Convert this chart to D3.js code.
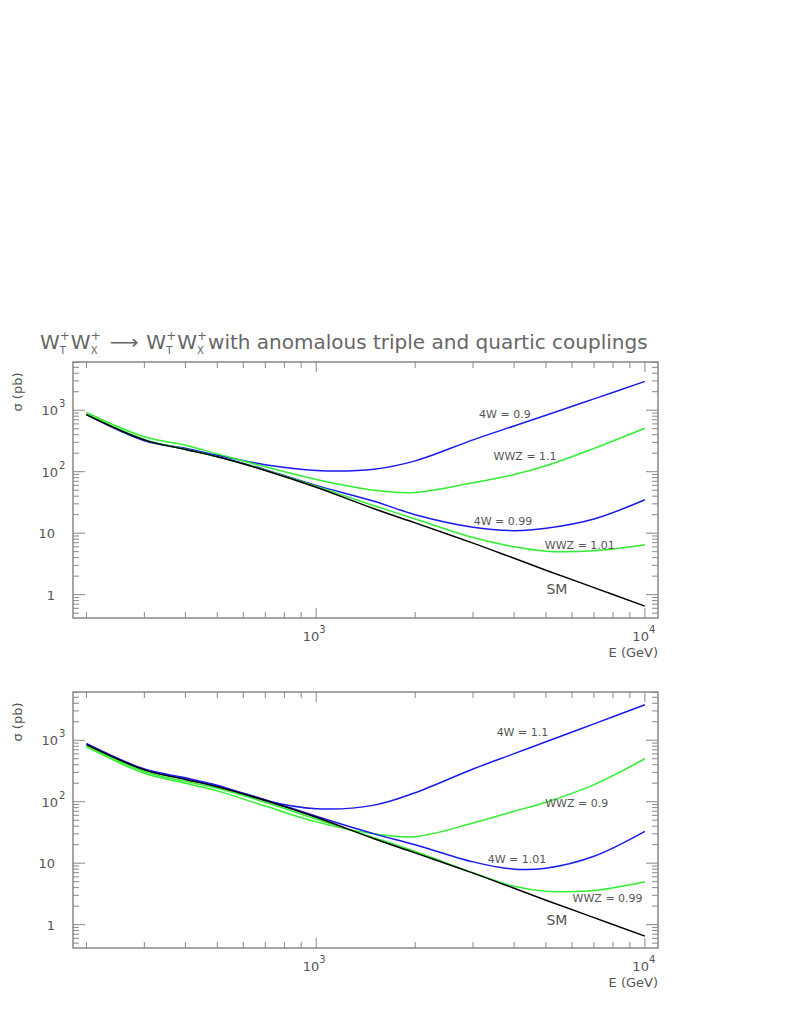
<!DOCTYPE html>
<html><head><meta charset="utf-8">
<script src="https://cdn.jsdelivr.net/npm/d3@7"></script>
<style>body{margin:0;background:#fff}svg{font-family:"DejaVu Sans",sans-serif}</style>
</head><body><div id="chart"></div>
<script>
// energies (GeV)
const energy = [200, 300, 400, 500, 700, 1000, 1500, 2000, 3000, 4000, 5000, 7000, 10000];

const sm = [850, 330, 230, 175, 105, 56, 25, 14.7, 6.9, 3.9, 2.5, 1.3, 0.65];

// upper panel
const top4W09 = [850, 320, 240, 185, 130, 105, 110, 150, 330, 556, 830, 1530, 2950];
const topWWZ11 = [920, 370, 270, 195, 120, 75, 50, 46, 66, 90, 125, 240, 510];
const top4W099 = [850, 330, 232, 177, 108, 60, 33, 20, 12.5, 11, 12, 17, 35];
const topWWZ101 = [860, 335, 233, 176, 106, 58, 28, 17, 8.5, 6, 5.1, 5.2, 6.5];

// lower panel
const bot4W11 = [880, 340, 245, 185, 105, 77, 88, 140, 340, 605, 945, 1850, 3780];
const botWWZ09 = [780, 290, 200, 150, 85, 47, 30, 27, 45, 70, 98, 190, 500];
const bot4W101 = [880, 335, 235, 178, 108, 58, 30, 20, 10.5, 8, 8.3, 13, 33];
const botWWZ099 = [830, 310, 215, 165, 98, 52, 26, 15.5, 7, 4.2, 3.5, 3.6, 5];

const panels = [
  { series: [
      { v: top4W09, c: "#1a1aee" }, { v: topWWZ11, c: "#30ee30" },
      { v: top4W099, c: "#1a1aee" }, { v: topWWZ101, c: "#30ee30" }, { v: sm, c: "#000" }],
    labels: [["4W = 0.9", 3750, 860, 11], ["WWZ = 1.1", 4320, 180, 11], ["4W = 0.99", 3700, 16, 11],
             ["WWZ = 1.01", 6340, 6.4, 11], ["SM", 5400, 1.2, 14]] },
  { series: [
      { v: bot4W11, c: "#1a1aee" }, { v: botWWZ09, c: "#30ee30" },
      { v: bot4W101, c: "#1a1aee" }, { v: botWWZ099, c: "#30ee30" }, { v: sm, c: "#000" }],
    labels: [["4W = 1.1", 4240, 1370, 11], ["WWZ = 0.9", 6200, 94, 11], ["4W = 1.01", 4080, 11.5, 11],
             ["WWZ = 0.99", 7700, 2.7, 11], ["SM", 5400, 1.16, 14]] }
];

const W = 789, H = 1021, gray = "#555", frame = "#888";
const svg = d3.select("#chart").append("svg").attr("width", W).attr("height", H);

// title pieces, placed one after another
let tx = 40;
const ty = 349;
const piece = (t, fs, dy) => {
  const el = svg.append("text").attr("x", tx).attr("y", ty + dy).attr("fill", "#666")
    .attr("font-size", fs).text(t);
  return el.node().getComputedTextLength();
};
const wpair = (s, b) => {
  tx += piece("W", 20, 0);
  const a = piece(s, 12, -9);
  const c = piece(b, 10, 5);
  tx += Math.max(a, c) + 1;
};
wpair("+", "T"); wpair("+", "X");
tx += 8; tx += piece("\u27F6", 20, 0) + 8;
wpair("+", "T"); wpair("+", "X");
piece(" with anomalous triple and quartic couplings", 20, 0);

const x = d3.scaleLog().domain([182, 10960]).range([73, 658]);
const tops = [362, 692];

panels.forEach((p, k) => {
  const y0 = tops[k], y1 = y0 + 256;
  const y = d3.scaleLog().domain([10 ** -0.38, 10 ** 3.785]).range([y1, y0]);
  const g = svg.append("g");
  g.append("rect").attr("x", 73).attr("y", y0).attr("width", 585).attr("height", 256)
    .attr("fill", "none").attr("stroke", frame).attr("stroke-width", 1.5);

  // x ticks
  const xt = [];
  [100, 1000].forEach(d => { for (let i = 2; i <= 10; i++) if (d * i >= 200) xt.push(d * i); });
  xt.forEach(v => {
    const len = (v === 1000 || v === 10000) ? 10 : 6;
    g.append("line").attr("x1", x(v)).attr("x2", x(v)).attr("y1", y1).attr("y2", y1 - len).attr("stroke", frame);
    g.append("line").attr("x1", x(v)).attr("x2", x(v)).attr("y1", y0).attr("y2", y0 + len).attr("stroke", frame);
  });
  // y ticks
  const yt = [];
  [0.1, 1, 10, 100, 1000].forEach(d => { for (let i = 1; i <= 9; i++) yt.push(d * i); });
  yt.filter(v => v >= y.domain()[0] && v <= y.domain()[1]).forEach(v => {
    const major = [1, 10, 100, 1000].some(m => Math.abs(v - m) < 1e-9);
    const len = major ? 12 : 6;
    g.append("line").attr("x1", 73).attr("x2", 73 + len).attr("y1", y(v)).attr("y2", y(v)).attr("stroke", frame);
    g.append("line").attr("x1", 658).attr("x2", 658 - len).attr("y1", y(v)).attr("y2", y(v)).attr("stroke", frame);
  });
  // y labels
  [[1, "1", ""], [10, "10", ""], [100, "10", "2"], [1000, "10", "3"]].forEach(([v, b, e]) => {
    g.append("text").attr("x", e ? 58 : 55).attr("y", y(v) + 5).attr("text-anchor", "end")
      .attr("fill", gray).attr("font-size", 13).text(b);
    if (e) g.append("text").attr("x", 59).attr("y", y(v) - 3).attr("fill", gray).attr("font-size", 10).text(e);
  });
  g.append("text").attr("transform", `translate(22,${y0 + 30}) rotate(-90)`).attr("text-anchor", "middle")
    .attr("fill", gray).attr("font-size", 13).text("\u03C3 (pb)");
  // x labels
  g.append("text").attr("x", x(1000) + 3).attr("y", y1 + 23).attr("text-anchor", "end").attr("fill", gray).attr("font-size", 13).text("10");
  g.append("text").attr("x", x(1000) + 3).attr("y", y1 + 15).attr("fill", gray).attr("font-size", 10).text("3");
  g.append("text").attr("x", x(10000) + 4).attr("y", y1 + 23).attr("text-anchor", "end").attr("fill", gray).attr("font-size", 13).text("10");
  g.append("text").attr("x", x(10000) + 4).attr("y", y1 + 15).attr("fill", gray).attr("font-size", 10).text("4");
  g.append("text").attr("x", 658).attr("y", y1 + 39).attr("text-anchor", "end").attr("fill", gray).attr("font-size", 13).text("E (GeV)");

  const line = d3.line().x((d, i) => x(energy[i])).y(d => y(d)).curve(d3.curveCatmullRom.alpha(0.5));
  p.series.forEach(s => g.append("path").attr("d", line(s.v)).attr("fill", "none")
    .attr("stroke", s.c).attr("stroke-width", 1.5));
  p.labels.forEach(([t, e, v, fs]) => g.append("text").attr("x", x(e)).attr("y", y(v) + 4)
    .attr("text-anchor", "middle").attr("fill", gray).attr("font-size", fs).text(t));
});
</script></body></html>
